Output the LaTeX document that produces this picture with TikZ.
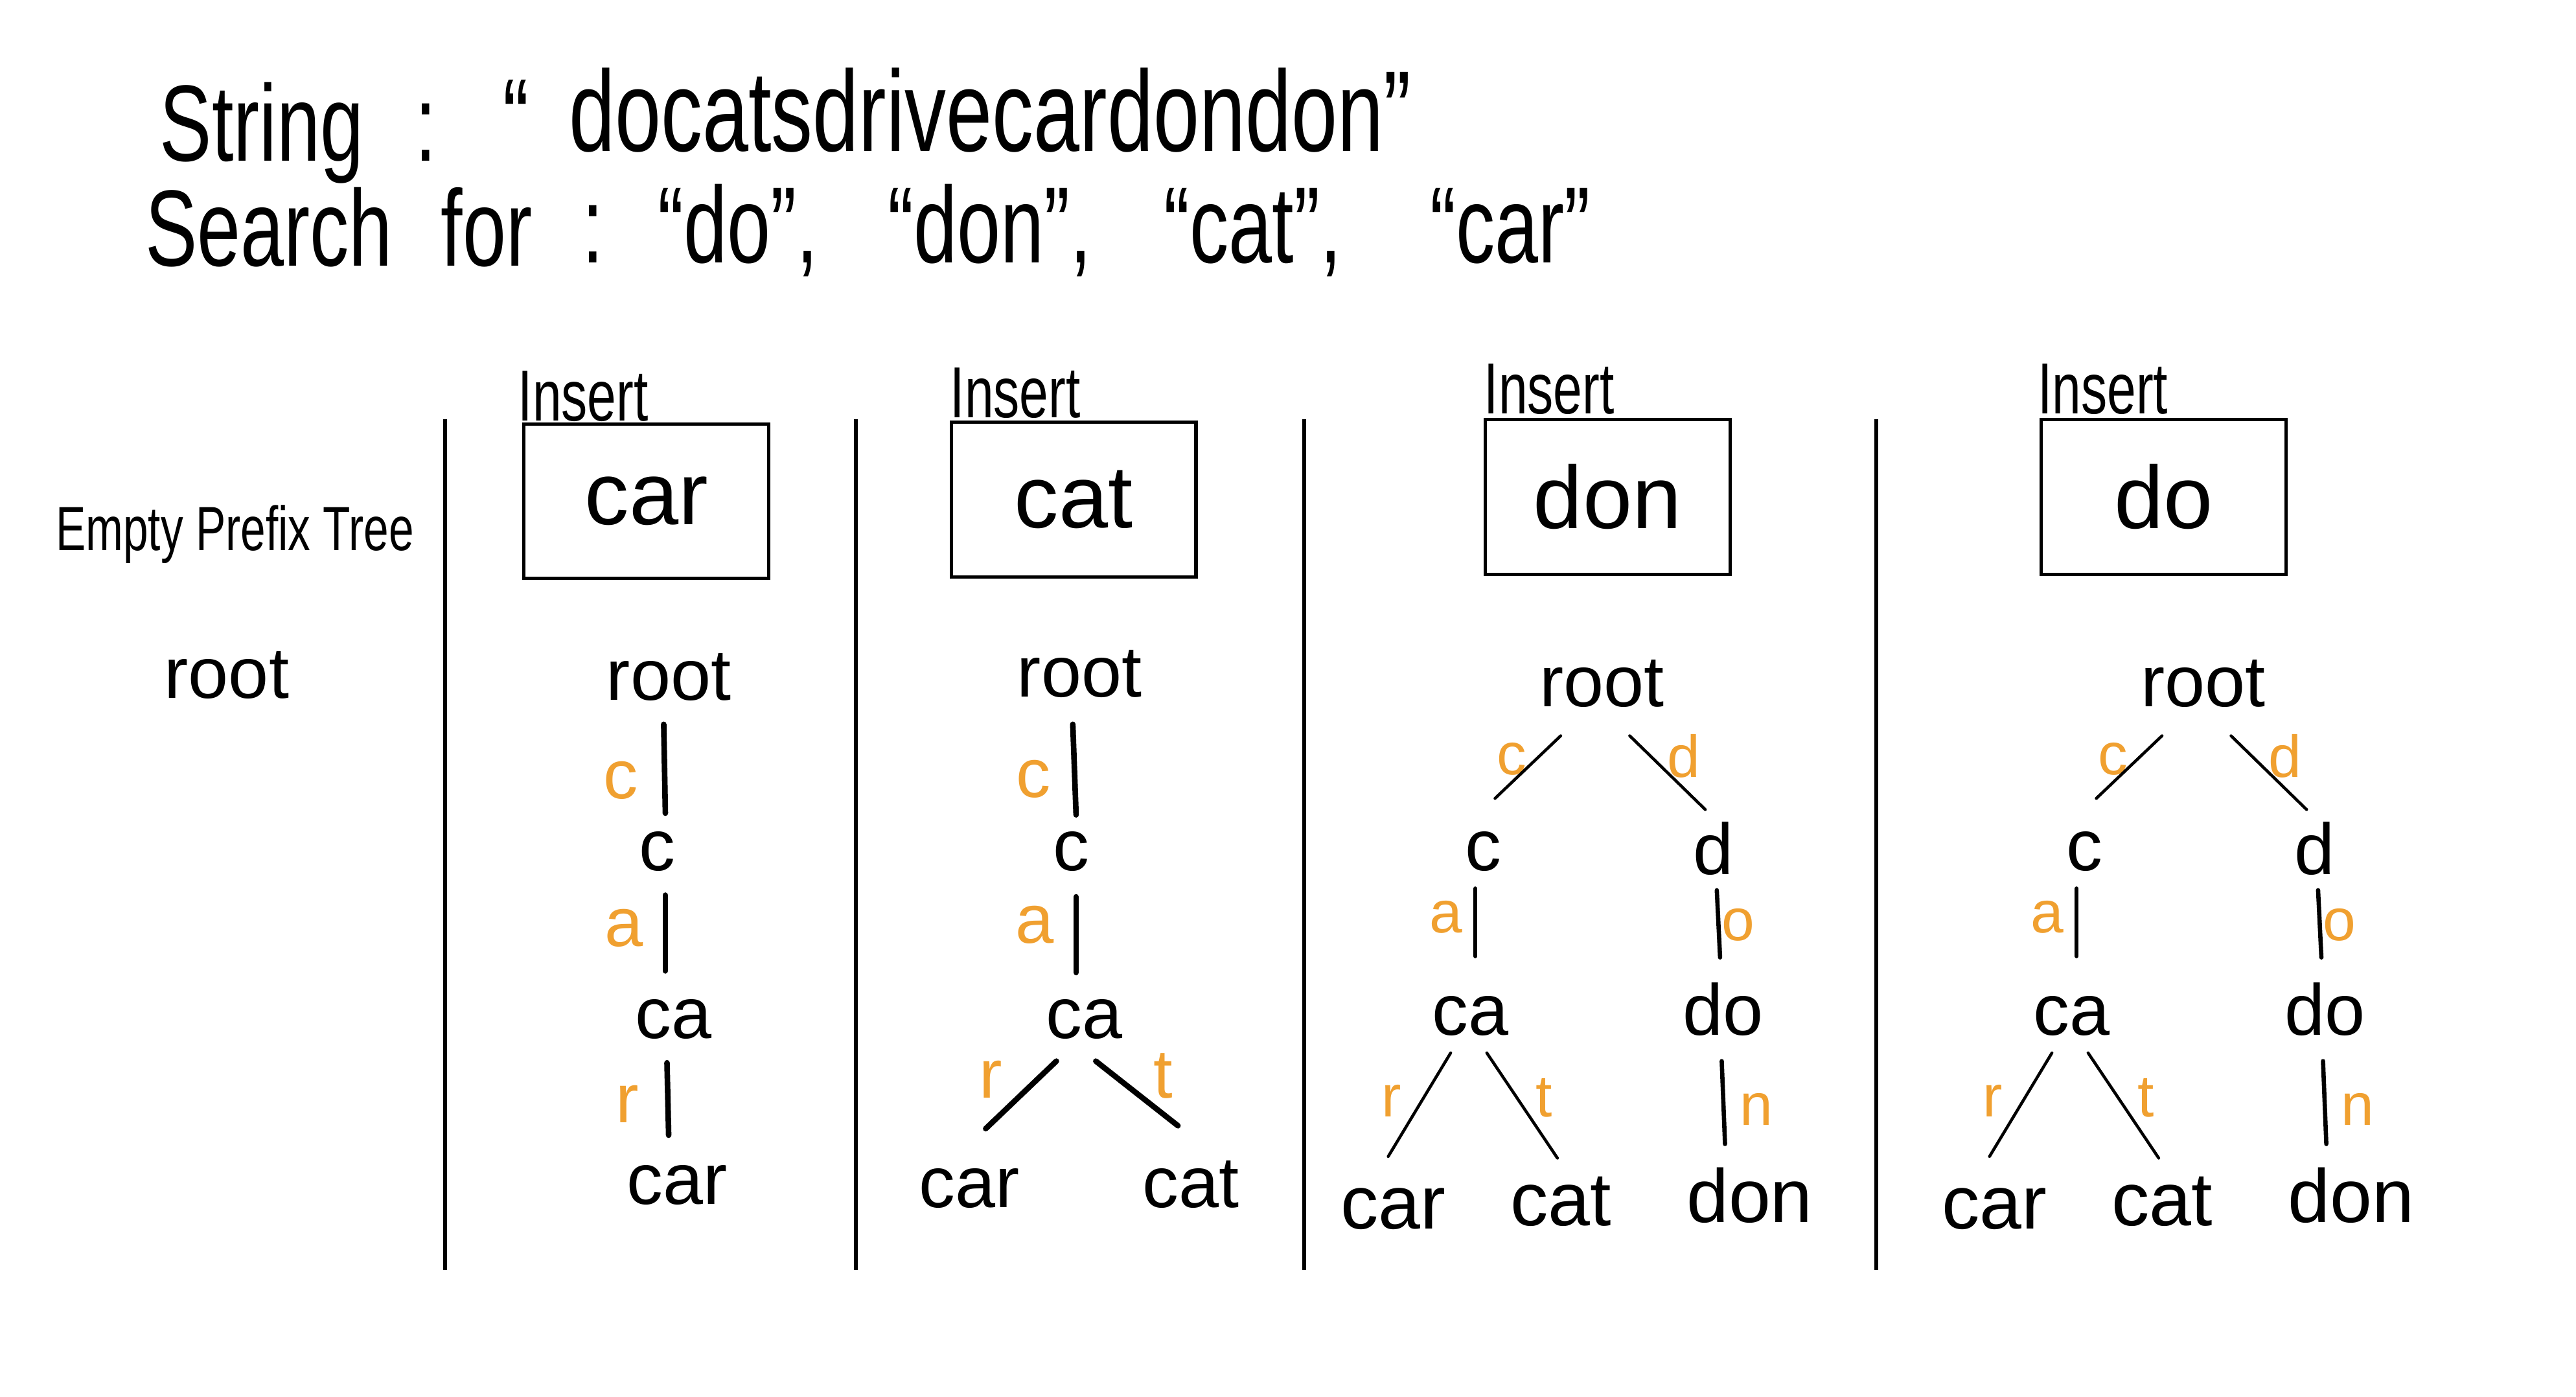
\documentclass[tikz,border=0pt]{standalone}
\usepackage{fontspec}
\setmainfont{Liberation Sans}
\newfontfamily\hand[FakeStretch=0.72]{Liberation Sans}
\usetikzlibrary{calc}
\definecolor{edgeorange}{RGB}{240,160,48}
\begin{document}
\begin{tikzpicture}[x=0.5pt,y=-0.5pt,
  word/.style={anchor=base, inner sep=1pt, font=\fontsize{22}{26}\selectfont},
  wordl/.style={anchor=base, inner sep=1pt, font=\fontsize{23}{27}\selectfont},
  lab/.style={text=edgeorange, inner sep=0pt, font=\fontsize{21}{24}\selectfont},
  labs/.style={text=edgeorange, inner sep=0pt, font=\fontsize{18}{20}\selectfont},
  tedge/.style={line width=1.7pt, line cap=round},
  tedgemid/.style={line width=1.3pt, line cap=round},
  tedgethin/.style={line width=0.9pt, line cap=round},
  divider/.style={line width=1.2pt},
  wordbox/.style={draw, line width=1pt, minimum width=74.5pt, minimum height=47pt, inner sep=0pt, font=\fontsize{27}{30}\selectfont},
  insertlbl/.style={anchor=base west, inner sep=0pt, font=\hand\fontsize{22}{26}\selectfont},
  title/.style={anchor=base west, inner sep=0pt, font=\hand\fontsize{33}{38}\selectfont}]
\useasboundingbox (0,0) rectangle (1568,850);

% title
\node[title] (s1) at (97,98) {String};
\node[title] (s2) at (252,98) {:};
\node[title] (s3) at (306,94) {“};
\node[title, font=\hand\fontsize{35}{40}\selectfont] (s4) at (346,92) {docatsdrivecardondon”};
\node[title] (q1) at (88,162) {Search};
\node[title] (q2) at (268,162) {for};
\node[title] (q3) at (354,160) {:};
\node[title] (q4) at (400,160) {“do”,};
\node[title] (q5) at (540,160) {“don”,};
\node[title] (q6) at (708,160) {“cat”,};
\node[title] (q7) at (870,160) {“car”};

% dividers
\draw[divider] (271,255) -- (271,773);
\draw[divider] (521,255) -- (521,773);
\draw[divider] (794,255) -- (794,773);
\draw[divider] (1142,255) -- (1142,773);

% empty tree
\node[anchor=base, inner sep=0pt, font=\hand\fontsize{19}{22}\selectfont] (ept) at (143,335) {Empty Prefix Tree};
\node[word] (r0) at (138,425) {root};

% column 1: insert car
\node[wordbox] (b1) at (393.5,305) {car};
\node[insertlbl] (i1) at (315,256) {Insert};
\node[word] (r1) at (407,426) {root};
\node[word] (c1) at (400,530) {c};
\node[word] (ca1) at (410,632) {ca};
\node[word] (car1) at (412,733) {car};
\node[lab] (l1c) at (378,475) {c};
\node[lab] (l1a) at (380,565) {a};
\node[lab] (l1r) at (382,672) {r};
\draw[tedge] ($(r1.south)+(-3,12)$) -- ($(c1.north)+(5,-9)$);
\draw[tedge] ($(c1.south)+(5,12)$) -- ($(ca1.north)+(-5,-15)$);
\draw[tedge] ($(ca1.south)+(-4,12)$) -- ($(car1.north)+(-5,-16)$);

% column 2: insert cat
\node[wordbox] (b2) at (653.5,304) {cat};
\node[insertlbl] (i2) at (578,254) {Insert};
\node[word] (r2) at (657,424) {root};
\node[word] (c2) at (652,530) {c};
\node[word] (ca2) at (660,632) {ca};
\node[word] (car2) at (590,735) {car};
\node[word] (cat2) at (725,735) {cat};
\node[lab] (l2c) at (629,474) {c};
\node[lab] (l2a) at (630,563) {a};
\node[lab] (l2r) at (603,657) {r};
\node[lab] (l2t) at (708,655) {t};
\draw[tedge] ($(r2.south)+(-4,14)$) -- ($(c2.north)+(3,-8)$);
\draw[tedge] ($(c2.south)+(3,13)$) -- ($(ca2.north)+(-5,-14)$);
\draw[tedge] ($(ca2.south)+(-17,11)$) -- ($(car2.north)+(10,-22)$);
\draw[tedge] ($(ca2.south)+(7,11)$) -- ($(cat2.north)+(-8,-19)$);

% column 3: insert don
\node[wordbox] (b3) at (978.5,302.5) {don};
\node[insertlbl] (i3) at (903,252) {Insert};
\node[word] (r3) at (975,430) {root};
\node[word] (c3) at (903,530) {c};
\node[word] (d3) at (1043,532) {d};
\node[word] (ca3) at (895,630) {ca};
\node[word] (do3) at (1049,630) {do};
\node[wordl] (car3) at (848,748) {car};
\node[wordl] (cat3) at (950,746) {cat};
\node[wordl] (don3) at (1065,744) {don};
\node[labs] (l3c) at (920,462) {c};
\node[labs] (l3d) at (1025,460) {d};
\node[labs] (l3a) at (880,558) {a};
\node[labs] (l3o) at (1058,563) {o};
\node[labs] (l3r) at (847,670) {r};
\node[labs] (l3t) at (940,668) {t};
\node[labs] (l3n) at (1069,675) {n};
\draw[tedgethin] ($(r3.south)+(-25,15)$) -- ($(c3.north)+(7,-18)$);
\draw[tedgethin] ($(r3.south)+(17,15)$) -- ($(d3.north)+(-5,-5)$);
\draw[tedgemid] ($(c3.south)+(-5,8)$) -- ($(ca3.north)+(3,-22)$);
\draw[tedgemid] ($(d3.south)+(2,7)$) -- ($(do3.north)+(-2,-13)$);
\draw[tedgethin] ($(ca3.south)+(-12,8)$) -- ($(car3.north)+(-3,-17)$);
\draw[tedgethin] ($(ca3.south)+(10,8)$) -- ($(cat3.north)+(-2,-9)$);
\draw[tedgemid] ($(do3.south)+(-1,13)$) -- ($(don3.north)+(-15,-12)$);

% column 4: insert do
\node[wordbox] (b4) at (1317,302.5) {do};
\node[insertlbl] (i4) at (1240,252) {Insert};
\node[word] (r4) at (1341,430) {root};
\node[word] (c4) at (1269,530) {c};
\node[word] (d4) at (1409,532) {d};
\node[word] (ca4) at (1261,630) {ca};
\node[word] (do4) at (1415,630) {do};
\node[wordl] (car4) at (1214,748) {car};
\node[wordl] (cat4) at (1316,746) {cat};
\node[wordl] (don4) at (1431,744) {don};
\node[labs] (l4c) at (1286,462) {c};
\node[labs] (l4d) at (1391,460) {d};
\node[labs] (l4a) at (1246,558) {a};
\node[labs] (l4o) at (1424,563) {o};
\node[labs] (l4r) at (1213,670) {r};
\node[labs] (l4t) at (1306,668) {t};
\node[labs] (l4n) at (1435,675) {n};
\draw[tedgethin] ($(r4.south)+(-25,15)$) -- ($(c4.north)+(7,-18)$);
\draw[tedgethin] ($(r4.south)+(17,15)$) -- ($(d4.north)+(-5,-5)$);
\draw[tedgemid] ($(c4.south)+(-5,8)$) -- ($(ca4.north)+(3,-22)$);
\draw[tedgemid] ($(d4.south)+(2,7)$) -- ($(do4.north)+(-2,-13)$);
\draw[tedgethin] ($(ca4.south)+(-12,8)$) -- ($(car4.north)+(-3,-17)$);
\draw[tedgethin] ($(ca4.south)+(10,8)$) -- ($(cat4.north)+(-2,-9)$);
\draw[tedgemid] ($(do4.south)+(-1,13)$) -- ($(don4.north)+(-15,-12)$);
\end{tikzpicture}
\end{document}
